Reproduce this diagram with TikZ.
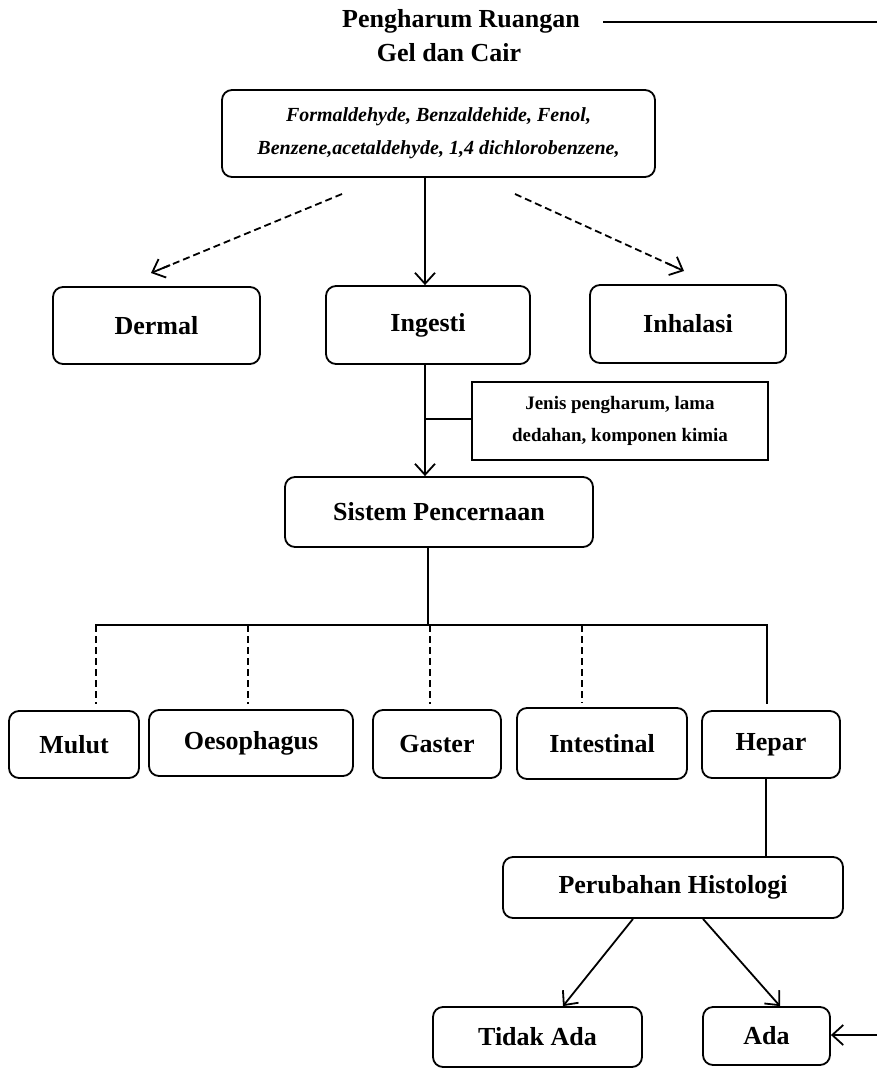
\documentclass[tikz,border=0pt]{standalone}
\usepackage{fontspec}
\setmainfont{Liberation Serif}
\usetikzlibrary{arrows.meta,calc}
\begin{document}
\begin{tikzpicture}[x=1pt,y=-1pt,
  rbox/.style={draw, line width=1.8pt, rounded corners=10pt, inner sep=0pt, align=center, font=\fontsize{26}{30}\selectfont\bfseries},
  sqbox/.style={draw, line width=2pt, inner sep=0pt, align=center, font=\fontsize{19}{32}\selectfont\bfseries},
  ttl/.style={inner sep=0pt, font=\fontsize{26}{30}\selectfont\bfseries},
  conn/.style={line width=1.8pt},
  arr/.style={conn, -{Straight Barb[length=11pt,width=20pt]}},
  dsh/.style={conn, dash pattern=on 7pt off 4pt}]
\useasboundingbox (0,0) rectangle (877,1068);

% title
\node[ttl] (t1) at (461,21) {Pengharum Ruangan};
\node[ttl] (t2) at (449,53) {Gel dan Cair};
\coordinate (tl) at (603,22);
\coordinate (tr) at (877,22);
\draw[conn] (tl) -- (tr);

% chemicals
\node[rbox, minimum width=433pt, minimum height=87pt, font=\fontsize{20}{33}\selectfont\bfseries\itshape] (chem) at (438.5,133.5)
  {Formaldehyde, Benzaldehide, Fenol,\\Benzene,acetaldehyde, 1,4 dichlorobenzene,};

% routes
\node[rbox, minimum width=207pt, minimum height=77pt] (dermal) at (156.5,325.5) {Dermal};
\node[rbox, minimum width=204pt, minimum height=78pt] (ingesti) at (428,325) {Ingesti};
\node[rbox, minimum width=196pt, minimum height=78pt] (inhalasi) at (688,324) {Inhalasi};

\coordinate (dl0) at (342,194);
\coordinate (dl1) at (151,273);
\coordinate (dr0) at (515,194);
\coordinate (dr1) at (684,271);
\draw[dsh] (dl0) -- ($(dl0)!0.96!(dl1)$);
\draw[arr] ($(dl0)!0.9!(dl1)$) -- (dl1);
\draw[dsh] (dr0) -- ($(dr0)!0.96!(dr1)$);
\draw[arr] ($(dr0)!0.9!(dr1)$) -- (dr1);
\draw[arr] (chem.south -| 425,0) -- (ingesti.north -| 425,0);

% note
\node[sqbox, minimum width=296pt, minimum height=78pt] (note) at (620,421) {Jenis pengharum, lama\\dedahan, komponen kimia};

% sistem
\node[rbox, minimum width=308pt, minimum height=70pt] (sistem) at (439,512) {Sistem Pencernaan};
\draw[arr] (ingesti.south -| 425,0) -- (sistem.north -| 425,0);
\draw[conn] (425,419) -- (note.west |- 0,419);

% bus
\coordinate (bus) at (428,625);
\coordinate (b1) at (96,625);
\coordinate (b2) at (248,625);
\coordinate (b3) at (430,625);
\coordinate (b4) at (582,625);
\coordinate (b5) at (767,625);
\draw[conn] (sistem.south -| bus) -- (bus);
\draw[conn] (95,625) -- (768,625);

% organ boxes
\node[rbox, minimum width=130pt, minimum height=67pt] (mulut) at (74,744.5) {Mulut};
\node[rbox, minimum width=204pt, minimum height=66pt] (oeso) at (251,743) {Oesophagus};
\node[rbox, minimum width=128pt, minimum height=68pt] (gaster) at (437,744) {Gaster};
\node[rbox, minimum width=170pt, minimum height=71pt] (intes) at (602,743.5) {Intestinal};
\node[rbox, minimum width=138pt, minimum height=67pt] (hepar) at (771,744.5) {Hepar};

\draw[dsh] (b1) -- ([yshift=6pt]mulut.north -| b1);
\draw[dsh] (b2) -- ([yshift=5pt]oeso.north -| b2);
\draw[dsh] (b3) -- ([yshift=5pt]gaster.north -| b3);
\draw[dsh] (b4) -- ([yshift=5pt]intes.north -| b4);
\draw[conn] (b5) -- ([yshift=6pt]hepar.north -| b5);

% histology
\node[rbox, minimum width=340pt, minimum height=61pt] (histo) at (673,887.5) {Perubahan Histologi};
\draw[conn] (hepar.south -| 766,0) -- (histo.north -| 766,0);

\node[rbox, minimum width=209pt, minimum height=60pt] (tidak) at (537.5,1037) {Tidak Ada};
\node[rbox, minimum width=127pt, minimum height=58pt] (ada) at (766.5,1036) {Ada};

\draw[arr] (histo.south -| 633,0) -- (tidak.north -| 563,0);
\draw[arr] (histo.south -| 703,0) -- (ada.north -| 780,0);

\coordinate (inr) at (877,1035);
\draw[arr] (inr) -- (ada.east |- inr);
\end{tikzpicture}
\end{document}
